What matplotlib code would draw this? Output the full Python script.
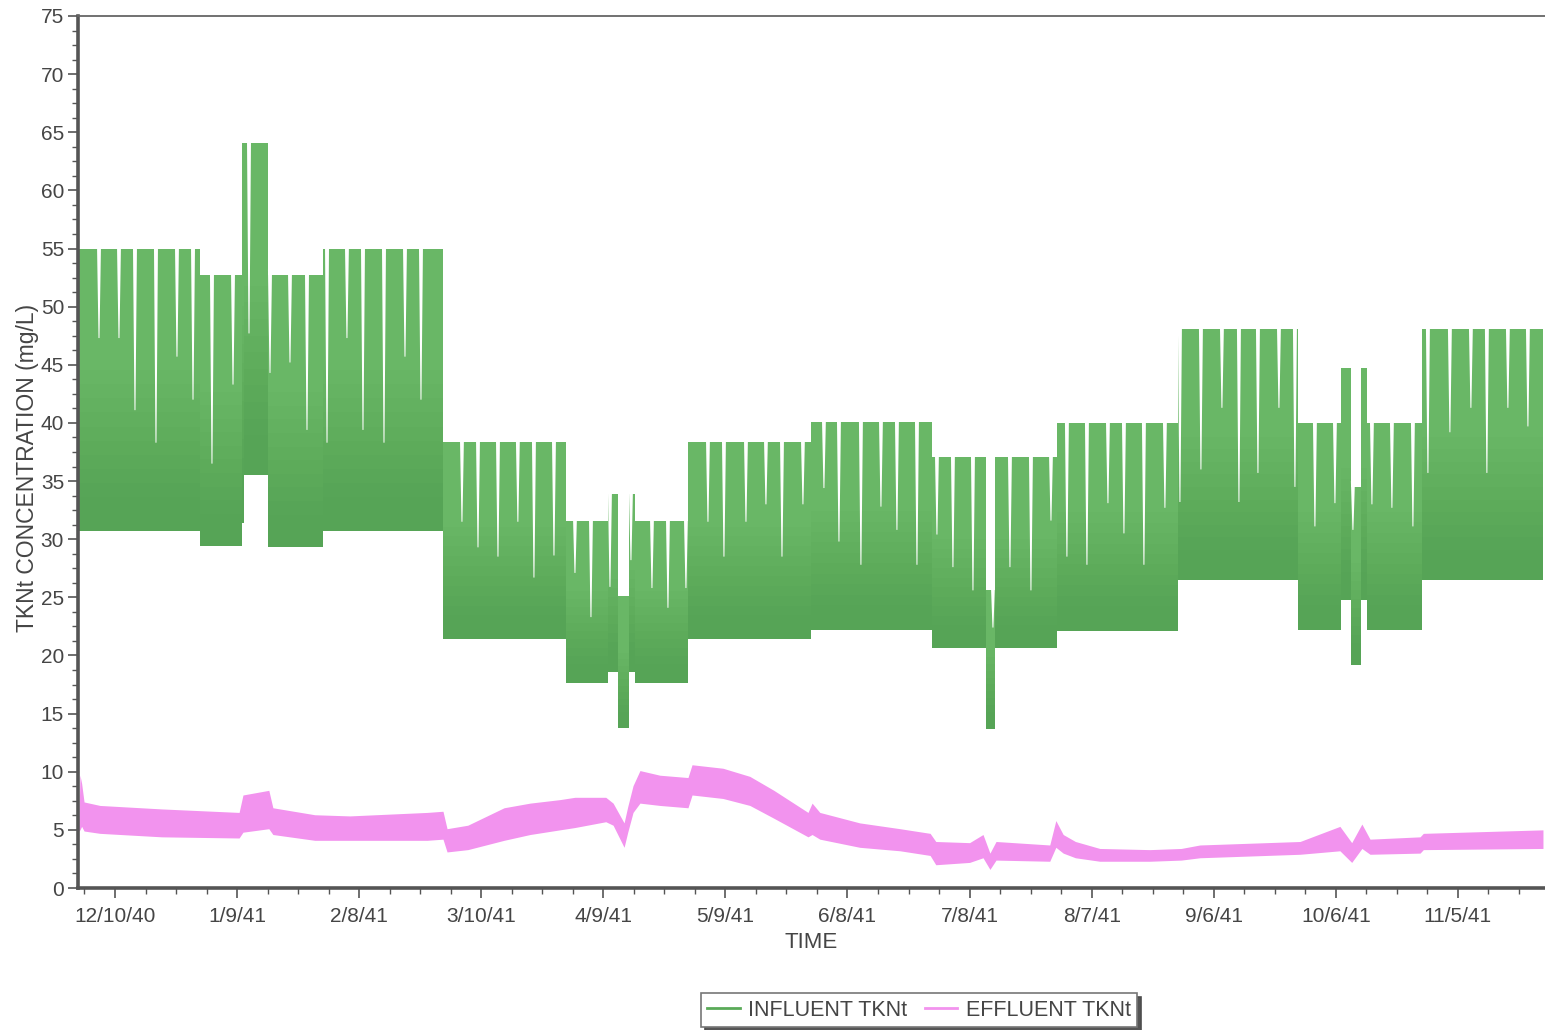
import matplotlib
matplotlib.use("Agg")
import matplotlib.pyplot as plt
from matplotlib.lines import Line2D
from matplotlib.ticker import MultipleLocator, FixedLocator, FixedFormatter
import numpy as np

plt.rcParams['font.family'] = ['Liberation Sans', 'DejaVu Sans']

# ---------------- data (x in days after 12/10/40) ----------------
tick_days = [0, 30, 60, 90, 120, 150, 180, 210, 240, 270, 300, 330]
tick_labels = ['12/10/40', '1/9/41', '2/8/41', '3/10/41', '4/9/41', '5/9/41',
               '6/8/41', '7/8/41', '8/7/41', '9/6/41', '10/6/41', '11/5/41']

# influent envelope: step segments
inf_seg_start = [-8.85, 20.9, 31.2, 31.7, 37.6, 51.1, 80.6, 110.8, 121.1, 123.6,
                 126.3, 127.8, 140.8, 171.0, 200.8, 214.0, 216.2, 231.5, 261.2,
                 290.7, 301.3, 303.7, 306.2, 307.6, 321.2]
inf_seg_end = 350.9
inf_seg_upper = [55.0, 52.7, 64.1, 64.1, 52.7, 55.0, 38.4, 31.6, 33.9, 25.1,
                 33.9, 31.6, 38.4, 40.1, 37.1, 25.6, 37.1, 40.0, 48.1,
                 40.0, 44.7, 34.5, 44.7, 40.0, 48.1]
inf_seg_lower = [30.7, 29.4, 31.4, 35.5, 29.3, 30.7, 21.4, 17.6, 18.6, 13.8,
                 18.6, 17.6, 21.4, 22.2, 20.6, 13.7, 20.6, 22.1, 26.5,
                 22.2, 24.8, 19.2, 24.8, 22.2, 26.5]

# influent periodic low peaks (day, peak value)
inf_dip_day = [-3.93, 0.98, 4.91, 10.07, 15.23, 19.17, 23.83, 29.0, 32.93, 38.09,
               43.0, 47.18, 52.1, 57.0, 60.94, 66.1, 71.26, 75.19, 85.26, 89.2,
               94.11, 99.0, 102.95, 107.87, 113.03, 116.96, 121.63, 126.79, 131.95,
               135.88, 140.3, 145.71, 149.64, 155.05, 159.96, 163.9, 169.05, 174.21,
               177.9, 183.3, 188.22, 192.15, 197.07, 201.98, 205.91, 210.83, 215.74,
               219.92, 225.08, 230.0, 233.92, 238.84, 244.0, 247.93, 252.84, 258.0,
               261.69, 266.85, 272.01, 276.19, 280.86, 286.02, 289.95, 294.86, 299.78,
               304.2, 308.87, 313.78, 318.94, 322.63, 328.03, 333.19, 337.12, 342.28,
               347.2]
inf_dip_val = [47.3, 47.3, 41.1, 38.3, 45.7, 42.0, 36.5, 43.3, 47.7, 44.3,
               45.2, 39.4, 38.3, 47.3, 39.4, 38.3, 45.7, 42.0, 31.5, 29.3,
               28.5, 31.5, 26.7, 28.6, 27.1, 23.3, 25.9, 28.2, 25.8,
               24.1, 25.8, 31.5, 28.5, 31.5, 33.0, 28.5, 33.0, 34.4,
               29.8, 27.8, 32.8, 30.8, 27.8, 30.4, 27.6, 25.6, 22.4,
               27.6, 25.6, 31.6, 28.5, 27.8, 33.1, 30.5, 27.8, 32.7,
               33.2, 36.0, 41.3, 33.2, 35.7, 41.3, 34.5, 31.1, 33.1,
               30.8, 33.0, 32.7, 31.1, 35.7, 39.2, 41.3, 35.7, 41.3,
               39.7]

# effluent envelope
eff_day = [-8.9, -8.6, -8.2, -7.6, -3.7, 11.5, 30.5, 31.45, 37.8, 38.8, 49.1, 57.7,
           76.7, 80.6, 81.6, 86.7, 95.6, 102.0, 109.3, 113.0, 120.6, 122.4, 125.1,
           126.0, 127.3, 129.0, 133.9, 140.8, 141.8, 149.4, 156.0, 161.9, 170.3,
           171.3, 173.2, 183.0, 192.9, 200.3, 201.7, 210.0, 213.3, 215.0, 216.5,
           229.7, 231.2, 233.0, 236.0, 242.0, 254.3, 262.0, 266.6, 291.2, 301.0,
           303.9, 306.4, 308.4, 320.7, 321.5, 350.9]
eff_upper = [5.5, 9.7, 9.0, 7.4, 7.1, 6.8, 6.5, 8.0, 8.4, 6.9, 6.3, 6.2,
             6.5, 6.6, 5.1, 5.4, 6.9, 7.3, 7.6, 7.8, 7.8, 7.3, 5.6,
             7.0, 8.8, 10.1, 9.7, 9.5, 10.6, 10.3, 9.6, 8.4, 6.5,
             7.3, 6.5, 5.6, 5.1, 4.7, 4.0, 3.9, 4.6, 3.0, 4.0,
             3.7, 5.8, 4.6, 4.0, 3.4, 3.3, 3.4, 3.7, 4.0, 5.3,
             3.9, 5.5, 4.2, 4.4, 4.7, 5.0]
eff_lower = [4.9, 5.0, 5.3, 4.9, 4.7, 4.4, 4.3, 4.8, 5.1, 4.6, 4.1, 4.1,
             4.1, 4.2, 3.1, 3.3, 4.1, 4.6, 5.0, 5.2, 5.7, 5.4, 3.5,
             4.8, 6.5, 7.3, 7.1, 6.9, 8.0, 7.7, 7.1, 6.0, 4.4,
             4.6, 4.2, 3.5, 3.2, 2.8, 2.0, 2.2, 2.6, 1.6, 2.4,
             2.3, 3.5, 3.0, 2.6, 2.3, 2.3, 2.4, 2.6, 2.9, 3.2,
             2.2, 3.4, 2.9, 3.0, 3.3, 3.4]

series_names = ['INFLUENT TKNt', 'EFFLUENT TKNt']

# ---------------- styling ----------------
GREEN = '#69b766'
GREEN_SHADE = '#3f8c42'
PINK = '#f293ee'
TXT = '#454545'
AX = '#555555'

fig = plt.figure(figsize=(15.45, 10.30), dpi=100)
ax = fig.add_axes([78 / 1545, 1 - 888 / 1030, 1 - 78 / 1545, (888 - 16) / 1030])

# influent envelope
xs = inf_seg_start + [inf_seg_end]
up = inf_seg_upper + [inf_seg_upper[-1]]
lo = inf_seg_lower + [inf_seg_lower[-1]]
ax.fill_between(xs, lo, up, step='post', color=GREEN, lw=0, zorder=2)
# gentle darkening towards the bottom of the band (denser trace)
for k in range(10):
    frac = 0.12 + 0.05 * k
    mid = [l + frac * (u - l) for l, u in zip(lo, up)]
    ax.fill_between(xs, lo, mid, step='post', color=GREEN_SHADE, alpha=0.04,
                    lw=0, zorder=2)

# periodic lower peaks appear as white notches from the top
starts = np.array(inf_seg_start)
for d, v in zip(inf_dip_day, inf_dip_val):
    i = max(0, np.searchsorted(starts, d, side='right') - 1)
    top = inf_seg_upper[i] + 0.5
    w = 0.5
    ax.fill([d - w, d + w, d + 0.12, d - 0.12], [top, top, v, v],
            color='white', lw=0, zorder=3)

# effluent envelope
ax.fill_between(eff_day, eff_lower, eff_upper, color=PINK, lw=0, zorder=2)

# axes
ax.set_xlim(-9.09, 351.4)
ax.set_ylim(0, 75)
ax.xaxis.set_major_locator(FixedLocator(tick_days))
ax.xaxis.set_major_formatter(FixedFormatter(tick_labels))
ax.xaxis.set_minor_locator(MultipleLocator(7.5))
ax.yaxis.set_major_locator(MultipleLocator(5))
ax.yaxis.set_minor_locator(MultipleLocator(1.25))

for s in ['left', 'bottom']:
    ax.spines[s].set_linewidth(2.6)
    ax.spines[s].set_color(AX)
ax.spines['top'].set_linewidth(1.3)
ax.spines['top'].set_color('#666666')
ax.spines['right'].set_visible(False)

ax.tick_params(axis='both', which='major', length=7, width=1.2, color=AX,
               labelsize=15, labelcolor=TXT, direction='out')
ax.tick_params(axis='both', which='minor', length=4, width=1.0, color=AX,
               direction='out')
ax.tick_params(axis='x', which='major', pad=7)
ax.tick_params(axis='y', which='major', pad=3)

ax.set_ylabel('TKNt CONCENTRATION (mg/L)', fontsize=16.5, color=TXT)
ax.yaxis.set_label_coords(-0.0268, 0.482)
ax.set_xlabel('TIME', fontsize=16, color=TXT, labelpad=4)

handles = [Line2D([], [], color='#5aaa58', lw=2),
           Line2D([], [], color=PINK, lw=2)]
leg = fig.legend(handles, series_names, loc='center',
                 bbox_to_anchor=(919 / 1545, 1 - 1010 / 1030), ncol=2,
                 frameon=True, fancybox=False,
                 shadow={'ox': 3, 'oy': -3, 'facecolor': '#555555', 'alpha': 1.0},
                 fontsize=15.5, handlelength=1.5, handletextpad=0.4,
                 columnspacing=0.8, borderpad=0.3, edgecolor='#777777')
for t in leg.get_texts():
    t.set_color(TXT)
leg.get_frame().set_linewidth(1.2)

fig.savefig('out.png', dpi=100, facecolor='white')
